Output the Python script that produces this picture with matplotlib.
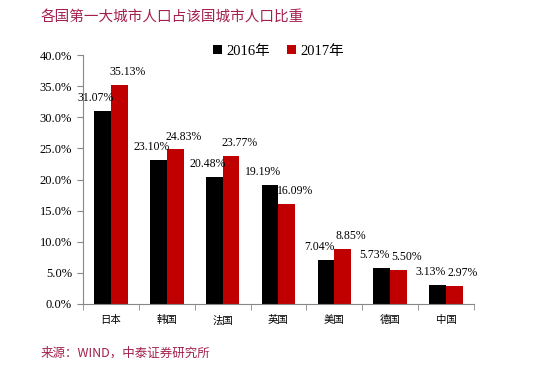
import numpy as np
import matplotlib.pyplot as plt
from matplotlib.ticker import FuncFormatter

countries = ['日本', '韩国', '法国', '英国', '美国', '德国', '中国']
v2016 = [31.07, 23.10, 20.48, 19.19, 7.04, 5.73, 3.13]
v2017 = [35.13, 24.83, 23.77, 16.09, 8.85, 5.50, 2.97]

cjk = ['Noto Sans CJK SC', 'DejaVu Sans']
serif = ['Liberation Serif', 'Noto Sans CJK SC']

fig = plt.figure(figsize=(5.41, 3.67), dpi=100)
ax = fig.add_axes([0.1534, 0.1717, 0.7226, 0.6783])

x = np.arange(len(countries))
w = 0.3
b1 = ax.bar(x - w / 2, v2016, w, color='#000000', label='2016年')
b2 = ax.bar(x + w / 2, v2017, w, color='#c00000', label='2017年')

# value labels, nudged apart a little like the original
for bars, vals, dx in ((b1, v2016, -5), (b2, v2017, 6)):
    for r, v in zip(bars, vals):
        ax.annotate('%.2f%%' % v, (r.get_x() + r.get_width() / 2, v),
                    xytext=(dx, 5), textcoords='offset points',
                    ha='center', va='bottom', fontsize=8.5, family=serif)

ax.set_xlim(-0.5, len(countries) - 0.5)
ax.set_ylim(0, 40)
ax.set_yticks(np.arange(0, 40.1, 5))
ax.yaxis.set_major_formatter(FuncFormatter(lambda v, p: '%.1f%%' % v))
for lab in ax.get_yticklabels():
    lab.set_family(serif)
    lab.set_fontsize(9)

ax.set_xticks(x)
ax.set_xticklabels(countries, family=cjk, fontsize=7.5)
ax.set_xticks(np.arange(-0.5, len(countries)), minor=True)
ax.tick_params(axis='x', which='major', length=0, pad=8)
ax.tick_params(axis='x', which='minor', length=4, color='#888888')
ax.tick_params(axis='y', length=4, color='#888888', pad=4)

for s in ['top', 'right']:
    ax.spines[s].set_visible(False)
for s in ['left', 'bottom']:
    ax.spines[s].set_color('#888888')

ax.legend(loc='upper center', bbox_to_anchor=(0.5, 1.095), ncol=2,
          frameon=False, handlelength=0.6, handleheight=0.6,
          handletextpad=0.3, columnspacing=1.2,
          prop={'family': ['Liberation Serif', 'Noto Sans CJK SC'], 'size': 10.5})

fig.text(0.074, 0.955, '各国第一大城市人口占该国城市人口比重', family=cjk,
         fontsize=10.5, color='#a3204f', va='center')
fig.text(0.074, 0.038, '来源：WIND，中泰证券研究所', family=cjk,
         fontsize=9, color='#a3204f', va='center')

fig.savefig('out.png', dpi=100)
